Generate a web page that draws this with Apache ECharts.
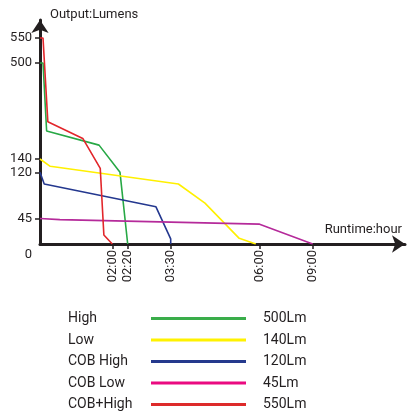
<!DOCTYPE html>
<html><head><meta charset="utf-8">
<script src="https://cdn.jsdelivr.net/npm/echarts@6/dist/echarts.min.js"></script>
<style>html,body{margin:0;padding:0;background:#fff}#c{width:411px;height:412px}</style>
</head><body><div id="c"></div>
<script>
// ---- data ----
const seriesNames = ['High', 'Low', 'COB High', 'COB Low', 'COB+High'];
const seriesLumenLabels = ['500Lm', '140Lm', '120Lm', '45Lm', '550Lm'];
const seriesColors = ['#27a845', '#fff000', '#24388f', '#b52a9a', '#e2262b'];
const legendColors = ['#3aad4a', '#fff200', '#25398d', '#ea0a80', '#dd2a2a'];

// runtime in minutes, output in lumens
const highMinutes = [0, 5, 11, 98, 130, 140];
const highLumens = [500, 500, 245, 192, 120, 0];
const lowMinutes = [0, 17, 223, 268, 326, 354];
const lowLumens = [140, 129, 101, 70, 10, 0];
const cobHighMinutes = [0, 7, 186, 210, 210];
const cobHighLumens = [120, 101, 64, 9, 0];
const cobLowMinutes = [0, 33, 361, 540];
const cobLowLumens = [45, 43, 35, 0];
const cobPlusMinutes = [0, 5, 13, 71, 100, 106, 120];
const cobPlusLumens = [550, 550, 280, 217, 126, 16, 0];

// axis ticks (non-linear, hand-drawn axes)
const xTickMinutes = [0, 120, 140, 210, 360, 540];
const xTickLabels = ['', '02:00', '02:20', '03:30', '06:00', '09:00'];
const xTickScale = [0, 72.3, 87.7, 130.7, 219.3, 272.7];
const yTickLumens = [0, 45, 120, 140, 500, 550];
const yTickScale = [0, 25.5, 71.7, 85, 181, 206];

// ---- piecewise scale ----
function piecewise(v, from, to) {
  for (let i = 1; i < from.length; i++) {
    if (v <= from[i]) return to[i - 1] + (v - from[i - 1]) * (to[i] - to[i - 1]) / (from[i] - from[i - 1]);
  }
  const n = from.length - 1;
  return to[n] + (v - from[n]) * (to[n] - to[n - 1]) / (from[n] - from[n - 1]);
}
const sx = m => piecewise(m, xTickMinutes, xTickScale);
const sy = l => piecewise(l, yTickLumens, yTickScale);
function nearest(arr, v) {
  let bi = 0;
  arr.forEach((a, i) => { if (Math.abs(a - v) < Math.abs(arr[bi] - v)) bi = i; });
  return bi;
}

const allMinutes = [highMinutes, lowMinutes, cobHighMinutes, cobLowMinutes, cobPlusMinutes];
const allLumens = [highLumens, lowLumens, cobHighLumens, cobLowLumens, cobPlusLumens];

const ink = '#231f20';
const font = 'Roboto';

const rich = {
  n: { width: 83, align: 'left', fontSize: 14, fontFamily: font, color: ink, lineHeight: 14, verticalAlign: 'middle' },
  v: { padding: [0, 0, 0, 17], fontSize: 14, fontFamily: font, color: ink, lineHeight: 14, verticalAlign: 'middle' }
};
legendColors.forEach((c, i) => {
  rich['l' + i] = { width: 95, height: 3, backgroundColor: c, verticalAlign: 'middle' };
});

const chart = echarts.init(document.getElementById('c'), null, { renderer: 'canvas' });
chart.setOption({
  animation: false,
  backgroundColor: '#fff',
  grid: { left: 40, right: 6, top: 20, bottom: 168 },
  xAxis: {
    type: 'value', min: 0, max: 365,
    name: 'Runtime:hour', nameLocation: 'end', nameGap: -3,
    nameTextStyle: { fontSize: 13, fontFamily: font, color: ink, align: 'right', verticalAlign: 'bottom', padding: [0, 0, 8, 0] },
    axisLine: { lineStyle: { color: ink, width: 3 }, symbol: ['none', 'arrow'], symbolSize: [13, 13] },
    axisTick: { show: true, length: 5, lineStyle: { color: ink, width: 1.5 }, customValues: xTickScale.slice(1) },
    axisLabel: {
      rotate: 90, margin: 6, fontSize: 13, fontFamily: font, color: ink,
      customValues: xTickScale.slice(1),
      formatter: v => xTickLabels[nearest(xTickScale, v)]
    },
    splitLine: { show: false }
  },
  yAxis: {
    type: 'value', min: 0, max: 224,
    name: 'Output:Lumens', nameLocation: 'end', nameGap: -1,
    nameTextStyle: { fontSize: 13, fontFamily: font, color: ink, align: 'left', padding: [0, 0, 0, 10] },
    axisLine: { show: true, lineStyle: { color: ink, width: 3 }, symbol: ['none', 'arrow'], symbolSize: [13, 13] },
    axisTick: { show: true, length: 5, lineStyle: { color: ink, width: 1.5 }, customValues: yTickScale.slice(1) },
    axisLabel: {
      margin: 8, fontSize: 13, fontFamily: font, color: ink,
      customValues: yTickScale,
      formatter: v => { const t = yTickLumens[nearest(yTickScale, v)]; return t === 0 ? '{z|0}' : String(t); },
      rich: { z: { padding: [22, 0, 0, 0], fontSize: 13, fontFamily: font, color: ink } }
    },
    splitLine: { show: false }
  },
  legend: {
    orient: 'vertical', left: 63, top: 311.5, padding: 0,
    icon: 'none', itemWidth: 0, itemHeight: 14, itemGap: 7.5,
    data: seriesNames,
    formatter: name => {
      const i = seriesNames.indexOf(name);
      return '{n|' + name + '}{l' + i + '|}{v|' + seriesLumenLabels[i] + '}';
    },
    textStyle: { rich: rich }
  },
  series: seriesNames.map((name, i) => ({
    name: name,
    type: 'line',
    symbol: 'none',
    color: seriesColors[i],
    lineStyle: { width: 1.6, color: seriesColors[i] },
    data: allMinutes[i].map((m, j) => [sx(m), sy(allLumens[i][j])])
  }))
});
</script></body></html>
